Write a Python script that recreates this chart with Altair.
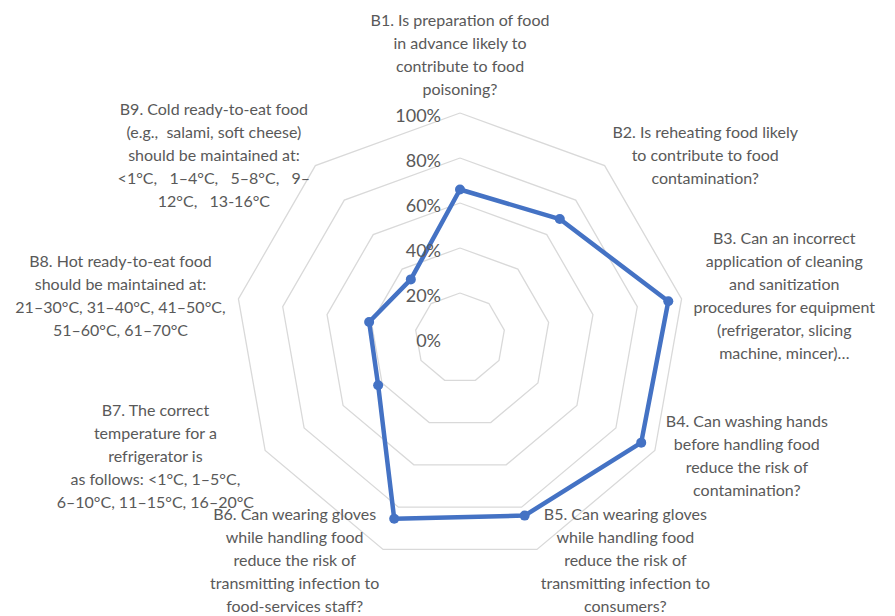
import math
import altair as alt
import pandas as pd

# ---------------- data ----------------
CATEGORIES = ["B1", "B2", "B3", "B4", "B5", "B6", "B7", "B8", "B9"]
VALUES = [0.66, 0.69, 0.94, 0.93, 0.84, 0.855, 0.42, 0.41, 0.34]
NB = "\u00a0\u00a0 "
LABEL_LINES = [
    ["B1. Is preparation of food", "in advance likely to", "contribute to food", "poisoning?"],
    ["B2. Is reheating food likely", "to contribute to food", "contamination?"],
    ["B3. Can an incorrect", "application of cleaning", "and sanitization",
     "procedures for equipment", "(refrigerator, slicing", "machine, mincer)\u2026"],
    ["B4. Can washing hands", "before handling food", "reduce the risk of", "contamination?"],
    ["B5. Can wearing gloves", "while handling food", "reduce the risk of",
     "transmitting infection to", "consumers?"],
    ["B6. Can wearing gloves", "while handling food", "reduce the risk of",
     "transmitting infection to", "food-services staff?"],
    ["B7. The correct", "temperature for a", "refrigerator is",
     "as follows: <1\u00b0C, 1\u20135\u00b0C,", "6\u201310\u00b0C, 11\u201315\u00b0C, 16\u201320\u00b0C"],
    ["B8. Hot ready-to-eat food", "should be maintained at:",
     "21\u201330\u00b0C, 31\u201340\u00b0C, 41\u201350\u00b0C,", "51\u201360\u00b0C, 61\u201370\u00b0C"],
    ["B9. Cold ready-to-eat food", "(e.g.,\u00a0 salami, soft cheese)", "should be maintained at:",
     "<1\u00b0C," + NB + "1\u20134\u00b0C," + NB + "5\u20138\u00b0C," + NB + "9\u2013",
     "12\u00b0C," + NB + "13-16\u00b0C"],
]
TICK_VALUES = [0.0, 0.2, 0.4, 0.6, 0.8, 1.0]
TICK_LABELS = ["0%", "20%", "40%", "60%", "80%", "100%"]
RING_LEVELS = [0.2, 0.4, 0.6, 0.8, 1.0]

# ---------------- layout ----------------
W, H = 879, 608          # plot area (page minus 8px margin)
CX, CY = 452, 330        # centre of the radar in plot pixels
R = 225                  # pixels for 100 %
LINE_H = 23
LABEL_SIZE = 16
FONT = "Lato"
TEXT_COLOR = "#595959"
N = len(CATEGORIES)

x_scale = alt.Scale(domain=[-CX / R, (W - CX) / R], nice=False, zero=False)
y_scale = alt.Scale(domain=[-(H - CY) / R, CY / R], nice=False, zero=False)

ANGLE_EXPR = "PI/2 - 2*PI*datum.idx/%d" % N

# series (closed polygon)
series = pd.DataFrame({
    "category": CATEGORIES + [CATEGORIES[0]],
    "value": VALUES + [VALUES[0]],
    "idx": list(range(N)) + [N],
})

# rings
ring = pd.DataFrame(
    [{"level": lv, "idx": j} for lv in RING_LEVELS for j in range(N + 1)]
)

# ticks
ticks = pd.DataFrame({"value": TICK_VALUES, "label": TICK_LABELS})

# approximate glyph widths (em) for placing the centred label blocks
NARROW = set("iljI.,:;'|!")
def text_width(s, size=LABEL_SIZE):
    em = 0.0
    for c in s:
        if c in " \u00a0":
            em += 0.2
        elif c in NARROW:
            em += 0.24
        elif c in "ft":
            em += 0.33
        elif c == "r":
            em += 0.36
        elif c in "()-":
            em += 0.32
        elif c in "mw":
            em += 0.8
        elif c in "MW":
            em += 0.9
        elif c == "\u2026":
            em += 0.85
        elif c == "\u00b0":
            em += 0.38
        elif c.isupper():
            em += 0.64
        elif c.isdigit() or c in "<\u2013":
            em += 0.58
        elif c in "s?":
            em += 0.43
        else:
            em += 0.53
    return em * size * 1.03

OFFSET = 12 / R
lab_rows = []
for k, lines in enumerate(LABEL_LINES):
    th = math.pi / 2 - 2 * math.pi * k / N
    c, s = math.cos(th), math.sin(th)
    ax, ay = (1 + OFFSET) * c, (1 + OFFSET) * s
    w = max(text_width(l) for l in lines) / R
    h = len(lines) * LINE_H / R
    if c > 0.2:
        cx, cy = ax + w / 2, ay
    elif c < -0.2:
        cx, cy = ax - w / 2, ay
    else:
        cx, cy = ax, ay + (h / 2 if s > 0 else -h / 2)
    # Vega draws the first line at y: shift so that the block is centred on cy
    first_y = cy + (len(lines) - 1) / 2 * LINE_H / R
    lab_rows.append({"text": "\n".join(lines), "lx": cx, "ly": first_y})
labels = pd.DataFrame(lab_rows)

# ---------------- marks ----------------
rings_layer = (
    alt.Chart(ring)
    .transform_calculate(
        px="datum.level*cos(%s)" % ANGLE_EXPR,
        py="datum.level*sin(%s)" % ANGLE_EXPR,
    )
    .mark_line(color="#D9D9D9", strokeWidth=1.3)
    .encode(
        x=alt.X("px:Q", scale=x_scale, axis=None),
        y=alt.Y("py:Q", scale=y_scale, axis=None),
        detail="level:N",
        order="idx:Q",
    )
)

line_layer = (
    alt.Chart(series)
    .transform_calculate(
        px="datum.value*cos(%s)" % ANGLE_EXPR,
        py="datum.value*sin(%s)" % ANGLE_EXPR,
    )
    .mark_line(color="#4472C4", strokeWidth=4.5, strokeJoin="round")
    .encode(
        x=alt.X("px:Q", scale=x_scale, axis=None),
        y=alt.Y("py:Q", scale=y_scale, axis=None),
        order="idx:Q",
    )
)

point_layer = (
    alt.Chart(series)
    .transform_filter("datum.idx < %d" % N)
    .transform_calculate(
        px="datum.value*cos(%s)" % ANGLE_EXPR,
        py="datum.value*sin(%s)" % ANGLE_EXPR,
    )
    .mark_point(filled=True, color="#4472C4", size=100, opacity=1, shape="circle")
    .encode(
        x=alt.X("px:Q", scale=x_scale, axis=None),
        y=alt.Y("py:Q", scale=y_scale, axis=None),
    )
)

tick_layer = (
    alt.Chart(ticks)
    .transform_calculate(zero="0")
    .mark_text(align="right", baseline="middle", dx=-19, dy=4,
               font=FONT, fontSize=18, color=TEXT_COLOR)
    .encode(
        x=alt.X("zero:Q", scale=x_scale, axis=None),
        y=alt.Y("value:Q", scale=y_scale, axis=None),
        text="label:N",
    )
)

label_layer = (
    alt.Chart(labels)
    .mark_text(align="center", baseline="middle", lineBreak="\n", lineHeight=LINE_H,
               font=FONT, fontSize=LABEL_SIZE, color=TEXT_COLOR)
    .encode(
        x=alt.X("lx:Q", scale=x_scale, axis=None),
        y=alt.Y("ly:Q", scale=y_scale, axis=None),
        text="text:N",
    )
)

chart = (
    alt.layer(rings_layer, line_layer, point_layer, tick_layer, label_layer)
    .properties(width=W, height=H, padding=0, background="white",
                autosize=alt.AutoSizeParams(type="none"))
    .configure_view(strokeWidth=0, stroke="transparent")
)

chart.save("out.html", embed_options={"renderer": "svg", "actions": False})
